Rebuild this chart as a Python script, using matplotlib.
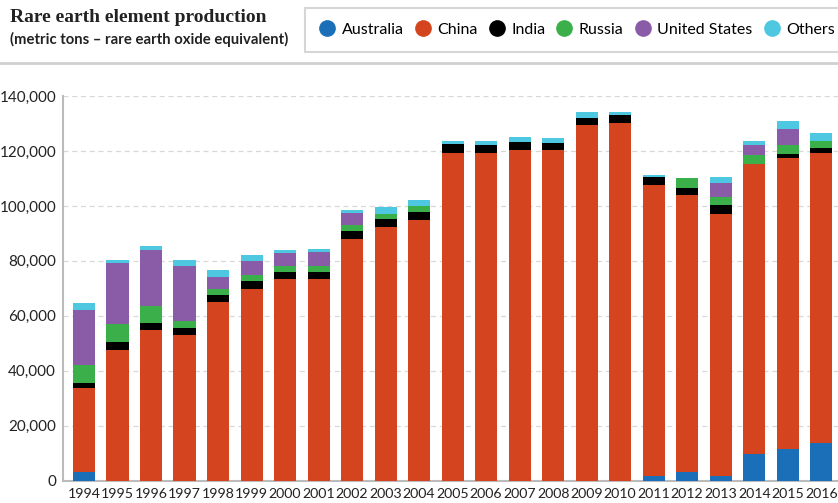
import matplotlib.pyplot as plt
import numpy as np
from matplotlib.lines import Line2D
from matplotlib.ticker import FuncFormatter

# values (metric tons REO)
years = [str(y) for y in range(1994, 2017)]
australia = [3000, 0, 0, 0, 0, 0, 0, 0, 0, 0, 0, 0, 0, 0, 0, 0, 0,
             1700, 3100, 1700, 9600, 11600, 13900]
china = [30700, 47700, 54800, 52900, 65000, 69900, 73300, 73500, 87900, 92200,
         95000, 119300, 119300, 120200, 120200, 129600, 130200,
         106000, 100700, 95400, 105700, 105800, 105400]
india = [1800, 2700, 2700, 2800, 2500, 2800, 2500, 2500, 3000, 3000,
         2700, 3100, 3000, 2900, 2800, 2400, 3000,
         2800, 2700, 3400, 0, 1600, 1700]
russia = [6700, 6500, 6100, 2400, 2200, 2200, 2200, 2200, 2200, 1800,
          2400, 0, 0, 0, 0, 0, 0,
          0, 3700, 2700, 3100, 3300, 2800]
usa = [20000, 22200, 20400, 19900, 4600, 4900, 4800, 5000, 4300, 0,
       0, 0, 0, 0, 0, 0, 0,
       0, 0, 5100, 3600, 5800, 0]
others = [2500, 1200, 1500, 2400, 2300, 2300, 1200, 1000, 1200, 2500,
          2200, 1100, 1400, 1800, 1700, 2000, 800,
          800, 0, 2200, 1800, 2700, 2800]

names = ["Australia", "China", "India", "Russia", "United States", "Others"]
colors = ["#1a6fb8", "#d4441f", "#000000", "#3bb04a", "#8a5ca8", "#4dc8e0"]
series = [australia, china, india, russia, usa, others]

plt.rcParams['font.family'] = ['Lato', 'DejaVu Sans']

fig = plt.figure(figsize=(8.38, 5.03), dpi=100)
ax = fig.add_axes([63 / 838, 22.3 / 503, 1 - 63 / 838, (480.7 - 96) / 503])

x = np.arange(len(years))
bottom = np.zeros(len(years))
for vals, c in zip(series, colors):
    vals = np.array(vals)
    ax.bar(x, vals, width=0.66, bottom=bottom, color=c, zorder=3)
    bottom += vals

ax.set_xlim(-0.627, 22.5)
ax.set_ylim(0, 140000)
ax.set_yticks(np.arange(0, 140001, 20000))
ax.yaxis.set_major_formatter(FuncFormatter(lambda v, p: f"{int(v):,}"))
ax.set_xticks(x)
ax.set_xticklabels(years)
ax.tick_params(axis='both', length=0, colors="#222222")
ax.tick_params(axis='x', pad=5, labelsize=10.2)
ax.tick_params(axis='y', pad=5, labelsize=11)

ax.grid(axis='y', linestyle=(0, (4, 3)), color="#d8d8d8", linewidth=0.9, zorder=0)
for s in ['top', 'right']:
    ax.spines[s].set_visible(False)
ax.spines['left'].set_color("#bbbbbb")
ax.spines['bottom'].set_color("#bbbbbb")
ax.spines['left'].set_linewidth(1.5)
ax.spines['bottom'].set_linewidth(1.5)

# header
fig.text(10 / 838, 1 - 18 / 503, "Rare earth element production",
         family="Liberation Serif", fontweight="bold", fontsize=14,
         va="center", ha="left", color="#222222")
fig.text(10 / 838, 1 - 39 / 503, "(metric tons \u2013 rare earth oxide equivalent)",
         fontweight="bold", fontsize=10.7, va="center", ha="left", color="#222222")
fig.add_artist(Line2D([0, 1], [1 - 63 / 503, 1 - 63 / 503], color="#d0d0d0",
                      linewidth=2, transform=fig.transFigure))

handles = [Line2D([], [], marker='o', linestyle='none', markersize=11,
                  markerfacecolor=c, markeredgecolor=c) for c in colors]
leg = fig.legend(handles, names, ncol=6, loc='upper left',
                 bbox_to_anchor=(305 / 838, 1 - 7.5 / 503), frameon=True,
                 fancybox=False, fontsize=11.5, handletextpad=0.45,
                 columnspacing=0.75, handlelength=0.9, borderpad=0.95,
                 borderaxespad=0)
leg.get_frame().set_edgecolor("#cccccc")
leg.get_frame().set_linewidth(1.5)

fig.savefig("out.png", dpi=100)
